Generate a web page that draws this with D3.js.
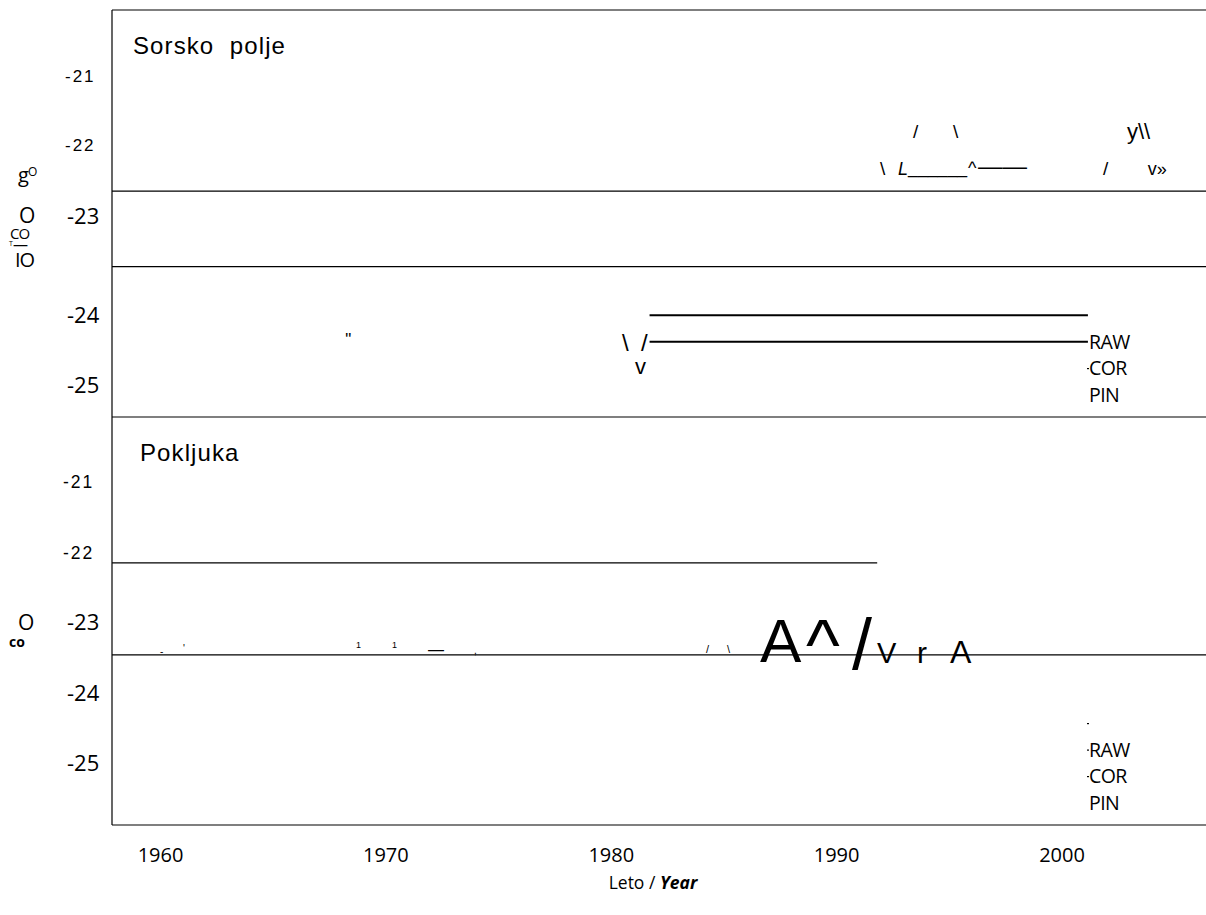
<!DOCTYPE html>
<html>
<head>
<meta charset="utf-8">
<script src="https://cdn.jsdelivr.net/npm/d3@7"></script>
<style>
body { margin: 0; background: #fff; }
text { white-space: pre; }
</style>
</head>
<body>
<svg width="1206" height="915"></svg>
<script>
// data
var years = [1960, 1970, 1980, 1990, 2000];
var yTicks = [-21, -22, -23, -24, -25];
var panelNames = ['Sorsko  polje', 'Pokljuka'];
var legendNames = ['RAW', 'COR', 'PIN'];

// Sorsko polje
var sorskoLevels = [-22.65, -23.51];
var sorskoUpper = [[1981.7, -24.0], [2001.15, -24.0]];
var sorskoLower = [[1981.7, -24.38], [2001.15, -24.38]];
var sorskoGlyphs = [
    [1968.2, -24.43, '"'],
    [1980.48, -24.51, '\\'],
    [1981.32, -24.51, '/'],
    [1981.05, -24.84, 'v'],
    [1993.39, -21.90, '/'],
    [1995.16, -21.90, '\\'],
    [2002.88, -21.91, 'y\\\\'],
    [1991.92, -22.42, '\\'],
    [1992.72, -22.42, 'L'],
    [1993.17, -22.40, '______'],
    [1995.83, -22.41, '^'],
    [1996.27, -22.41, '\u2014\u2014'],
    [2001.82, -22.42, '/'],
    [2003.81, -22.42, 'v\u00bb']
];

// Pokljuka
var pokljukaLevels = [-23.46];
var pokljukaShort = [[1957.85, -22.15], [1991.8, -22.15]];
var pokljukaGlyphs = [
    [1959.98, -23.46, '-'],
    [1961.0, -23.42, "'"],
    [1968.67, -23.36, '1'],
    [1970.27, -23.36, '1'],
    [1971.87, -23.46, '\u2014'],
    [1973.91, -23.45, ','],
    [1984.2, -23.43, '/'],
    [1985.14, -23.43, '\\'],
    [1986.6, -23.56, 'A'],
    [1988.64, -23.68, '^'],
    [1990.68, -23.66, '/'],
    [1991.79, -23.58, 'V'],
    [1993.57, -23.58, 'r'],
    [1995.03, -23.58, 'A']
];

var svg = d3.select('svg');
var sans = 'Liberation Sans, Arial, sans-serif';
var open = 'Open Sans, sans-serif';

var left = 112, right = 1206;
var panels = [{top: 10, bottom: 417}, {top: 417, bottom: 825}];

var x = d3.scaleLinear().domain([1960, 2000]).range([160.5, 1062]);
var y1 = d3.scaleLinear().domain([-21, -22, -23, -24, -25]).range([76.3, 145, 216, 315.3, 385]);
var y2 = d3.scaleLinear().domain([-21, -25]).range([482, 763]);

var line1 = d3.line().x(function (d) { return x(d[0]); }).y(function (d) { return y1(d[1]); });
var line2 = d3.line().x(function (d) { return x(d[0]); }).y(function (d) { return y2(d[1]); });

// frames
svg.append('line').attr('x1', left).attr('x2', left).attr('y1', 10).attr('y2', 825)
    .attr('stroke', '#000').attr('stroke-width', 1.2);
svg.selectAll('.edge')
    .data([10, 417, 825])
    .enter()
    .append('line')
    .attr('x1', left).attr('x2', right)
    .attr('y1', function (d) { return d; }).attr('y2', function (d) { return d; })
    .attr('stroke', '#000').attr('stroke-width', 1.2);

// full width levels
svg.selectAll('.lev1')
    .data(sorskoLevels)
    .enter()
    .append('line')
    .attr('x1', left).attr('x2', right)
    .attr('y1', function (d) { return y1(d); }).attr('y2', function (d) { return y1(d); })
    .attr('stroke', '#000').attr('stroke-width', 1.2);
svg.selectAll('.lev2')
    .data(pokljukaLevels)
    .enter()
    .append('line')
    .attr('x1', left).attr('x2', right)
    .attr('y1', function (d) { return y2(d); }).attr('y2', function (d) { return y2(d); })
    .attr('stroke', '#000').attr('stroke-width', 1.2);

svg.append('path').datum(sorskoUpper).attr('d', line1)
    .attr('fill', 'none').attr('stroke', '#000').attr('stroke-width', 2);
svg.append('path').datum(sorskoLower).attr('d', line1)
    .attr('fill', 'none').attr('stroke', '#000').attr('stroke-width', 2);
svg.append('path').datum(pokljukaShort).attr('d', line2)
    .attr('fill', 'none').attr('stroke', '#000').attr('stroke-width', 1.2);

// glyph remnants
var sorskoSize = [17, 24, 24, 22, 19, 19, 22, 19, 18, 22, 18, 24.5, 19, 18];
var pokljukaSize = [10, 10, 9, 9, 16, 10, 11, 11, 62, 72, 72, 29, 30, 32];

svg.selectAll('.g1')
    .data(sorskoGlyphs)
    .enter()
    .append('text')
    .attr('x', function (d) { return x(d[0]); })
    .attr('y', function (d) { return y1(d[1]); })
    .attr('font-family', sans)
    .attr('font-size', function (d, i) { return sorskoSize[i]; })
    .attr('font-style', function (d) { return d[2] === 'L' ? 'italic' : 'normal'; })
    .attr('textLength', function (d) { return d[2] === '______' ? 59 : null; })
    .attr('lengthAdjust', 'spacingAndGlyphs')
    .text(function (d) { return d[2]; });

svg.selectAll('.g2')
    .data(pokljukaGlyphs)
    .enter()
    .append('text')
    .attr('x', function (d) { return x(d[0]); })
    .attr('y', function (d) { return y2(d[1]); })
    .attr('font-family', sans)
    .attr('font-size', function (d, i) { return pokljukaSize[i]; })
    .text(function (d) { return d[2]; });

// y tick labels
[y1, y2].forEach(function (ys, p) {
    svg.selectAll('.yt' + p)
        .data(yTicks)
        .enter()
        .append('text')
        .attr('x', function (d) { return d > -23 ? (p ? 63 : 65) : 67; })
        .attr('y', function (d) { return ys(d); })
        .attr('dy', '0.36em')
        .attr('font-family', function (d) { return d > -23 ? sans : open; })
        .attr('font-size', function (d) { return d > -23 ? (p ? 17.5 : 17) : 22; })
        .attr('letter-spacing', function (d) { return d > -23 ? 2 : 0; })
        .text(function (d) { return d; });
});

// panel names
svg.selectAll('.pname')
    .data(panelNames)
    .enter()
    .append('text')
    .attr('x', function (d, i) { return i ? 140 : 133; })
    .attr('y', function (d, i) { return panels[i].top + 44; })
    .attr('font-family', sans)
    .attr('font-size', 24)
    .attr('letter-spacing', 1.1)
    .text(function (d) { return d; });

// legends
panels.forEach(function (pn, p) {
    svg.selectAll('.leg' + p)
        .data(legendNames)
        .enter()
        .append('text')
        .attr('x', 1089)
        .attr('y', function (d, i) { return pn.bottom - 68.5 + i * 26.5; })
        .attr('font-family', open)
        .attr('font-size', 19.5)
        .attr('letter-spacing', -0.6)
        .text(function (d) { return d; });
});
// leftover legend swatch dots [panel, row]
var dots = [[0, 1], [1, -1], [1, 0], [1, 1]];
svg.selectAll('.dot')
    .data(dots)
    .enter()
    .append('rect')
    .attr('x', 1087)
    .attr('y', function (d) { return panels[d[0]].bottom - 75.5 + d[1] * 26.5; })
    .attr('width', 2).attr('height', 1.2)
    .attr('fill', '#000');

// x tick labels
svg.selectAll('.xt')
    .data(years)
    .enter()
    .append('text')
    .attr('x', function (d) { return x(d); })
    .attr('y', 862)
    .attr('text-anchor', 'middle')
    .attr('font-family', open)
    .attr('font-size', 20)
    .text(function (d) { return d; });

var xt = svg.append('text')
    .attr('x', 653).attr('y', 889)
    .attr('text-anchor', 'middle')
    .attr('font-family', open)
    .attr('font-size', 17.5);
xt.append('tspan').text('Leto / ');
xt.append('tspan').attr('font-weight', 'bold').attr('font-style', 'italic').text('Year');

// y axis title remnants
var yt = svg.append('g').attr('font-family', open).attr('fill', '#000');
yt.append('text').attr('x', 18).attr('y', 182).attr('font-size', 20).text('g');
yt.append('text').attr('x', 28).attr('y', 176).attr('font-size', 12).text('O');
yt.append('text').attr('x', 19).attr('y', 223).attr('font-size', 21).text('O');
yt.append('text').attr('x', 10).attr('y', 239).attr('font-size', 15).attr('letter-spacing', -1).text('CO');
yt.append('text').attr('x', 9).attr('y', 246).attr('font-size', 7).text('T');
yt.append('text').attr('x', 13).attr('y', 250).attr('font-size', 15).text('\u2014');
yt.append('text').attr('x', 15).attr('y', 267).attr('font-size', 20).attr('letter-spacing', -1).text('IO');
yt.append('text').attr('x', 18).attr('y', 630).attr('font-size', 21).text('O');
yt.append('text').attr('x', 9).attr('y', 647).attr('font-size', 14).attr('font-weight', 'bold').text('co');
</script>
</body>
</html>
